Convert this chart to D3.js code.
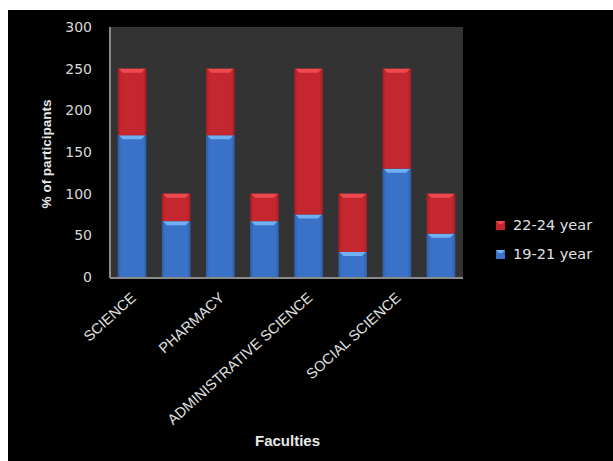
<!DOCTYPE html>
<html>
<head>
<meta charset="utf-8">
<script src="https://cdn.jsdelivr.net/npm/d3@7"></script>
<style>
  html, body { margin: 0; padding: 0; background: #fff; }
  svg { display: block; }
</style>
</head>
<body>
<svg id="chart" width="613" height="461"></svg>
<script>
// Donnees
const categories = ['SCIENCE', 'c2', 'PHARMACY', 'c4', 'ADMINISTRATIVE SCIENCE', 'c6', 'SOCIAL SCIENCE', 'c8'];
const tickLabels = ['SCIENCE', '', 'PHARMACY', '', 'ADMINISTRATIVE SCIENCE', '', 'SOCIAL SCIENCE', ''];
const age1921 = [170, 67, 170, 67, 75, 30, 130, 52];
const age2224 = [80, 33, 80, 33, 175, 70, 120, 48];
const yTicks = [0, 50, 100, 150, 200, 250, 300];
const seriesNames = ['19-21 year', '22-24 year'];

// Couleurs
const COLORS = {
  blue: { top: '#6fb0f2', body: '#3a72c8', dark: '#2d5ea8' },
  red:  { top: '#ec4a50', body: '#c4282e', dark: '#a51d22' },
};

const svg = d3.select('#chart');
const W = 613, H = 461;
const plot = { left: 110, right: 463, top: 27, bottom: 277 };

// fond noir du graphique
svg.append('rect').attr('x', 8).attr('y', 10).attr('width', W - 8).attr('height', H - 10).attr('fill', '#000');

const x = d3.scaleBand().domain(categories).range([plot.left, plot.right])
  .paddingInner(0.35).paddingOuter(0.175);
const y = d3.scaleLinear().domain([0, 300]).range([plot.bottom, plot.top]);

// degradés horizontaux pour les barres
const defs = svg.append('defs');
Object.entries(COLORS).forEach(([k, c]) => {
  const g = defs.append('linearGradient').attr('id', 'grad-' + k)
    .attr('x1', 0).attr('x2', 1).attr('y1', 0).attr('y2', 0);
  g.append('stop').attr('offset', '0%').attr('stop-color', c.dark);
  g.append('stop').attr('offset', '12%').attr('stop-color', c.body);
  g.append('stop').attr('offset', '88%').attr('stop-color', c.body);
  g.append('stop').attr('offset', '100%').attr('stop-color', c.dark);
});

// zone de tracé
svg.append('rect')
  .attr('x', plot.left).attr('y', plot.top)
  .attr('width', plot.right - plot.left).attr('height', plot.bottom - plot.top)
  .attr('fill', '#333333');

// empilement
const rows = categories.map((c, i) => ({ cat: c, a: age1921[i], b: age2224[i] }));
const stack = d3.stack().keys(['a', 'b'])(rows);
const keyColor = { a: 'blue', b: 'red' };

const bw = x.bandwidth();
const BEVEL = 4;
stack.forEach(layer => {
  const col = COLORS[keyColor[layer.key]];
  const g = svg.append('g').attr('class', 'series-' + layer.key);
  g.selectAll('rect.seg').data(layer).join('rect').attr('class', 'seg')
    .attr('x', d => x(d.data.cat))
    .attr('y', d => y(d[1]))
    .attr('width', bw)
    .attr('height', d => y(d[0]) - y(d[1]))
    .attr('fill', `url(#grad-${keyColor[layer.key]})`);
  // biseau en haut de chaque segment
  g.selectAll('path.bevel').data(layer).join('path').attr('class', 'bevel')
    .attr('d', d => {
      const x0 = x(d.data.cat), yt = y(d[1]);
      return `M${x0 + 1},${yt} L${x0 + bw - 1},${yt} L${x0 + bw - BEVEL - 1},${yt + BEVEL} L${x0 + BEVEL + 1},${yt + BEVEL} Z`;
    })
    .attr('fill', col.top);
});

// axes (lignes grises)
svg.append('line').attr('x1', plot.left).attr('x2', plot.left)
  .attr('y1', plot.top).attr('y2', plot.bottom + 1)
  .attr('stroke', '#8a8a8a').attr('stroke-width', 2);
svg.append('line').attr('x1', plot.left).attr('x2', plot.right)
  .attr('y1', plot.bottom + 1).attr('y2', plot.bottom + 1)
  .attr('stroke', '#8a8a8a').attr('stroke-width', 2);

// axe Y
const yAxis = d3.axisLeft(y).tickValues(yTicks).tickSize(0).tickPadding(18);
const gy = svg.append('g').attr('transform', `translate(${plot.left},0)`).call(yAxis);
gy.select('.domain').remove();
gy.selectAll('text')
  .attr('fill', '#d8d8d8')
  .style('font-family', '"DejaVu Sans", Verdana, sans-serif')
  .style('font-size', '14px');

// étiquettes X (pivotées)
const gx = svg.append('g');
gx.selectAll('text').data(categories.map((c, i) => ({ c, label: tickLabels[i] })).filter(d => d.label))
  .join('text')
  .attr('transform', d => `translate(${x(d.c) + bw / 2 + 5},${plot.bottom + 22}) rotate(-42)`)
  .attr('text-anchor', 'end')
  .attr('fill', '#e0e0e0')
  .style('font-family', '"Liberation Sans", Arial, sans-serif')
  .style('font-size', '14.5px')
  .text(d => d.label);

// titres des axes
svg.append('text')
  .attr('transform', `translate(51,${(plot.top + plot.bottom) / 2 + 2}) rotate(-90)`)
  .attr('text-anchor', 'middle')
  .attr('fill', '#e8e8e8')
  .style('font-family', '"Liberation Sans", Arial, sans-serif')
  .style('font-weight', 'bold')
  .style('font-size', '13.5px')
  .text('% of participants');

svg.append('text')
  .attr('x', (plot.left + plot.right) / 2 + 1).attr('y', 446)
  .attr('text-anchor', 'middle')
  .attr('fill', '#e8e8e8')
  .style('font-family', '"Liberation Sans", Arial, sans-serif')
  .style('font-weight', 'bold')
  .style('font-size', '15px')
  .text('Faculties');

// légende (ordre inversé comme Excel)
const legend = svg.append('g').attr('transform', 'translate(496,225)');
const legItems = [
  { name: seriesNames[1], col: COLORS.red },
  { name: seriesNames[0], col: COLORS.blue },
];
const li = legend.selectAll('g').data(legItems).join('g')
  .attr('transform', (d, i) => `translate(0,${i * 29})`);
li.append('rect').attr('x', 0).attr('y', -4).attr('width', 9).attr('height', 9)
  .attr('fill', d => d.col.body);
li.append('path').attr('d', 'M0,-4 L9,-4 L6,-1 L3,-1 Z').attr('fill', d => d.col.top);
li.append('text').attr('x', 17).attr('y', 5)
  .attr('fill', '#e0e0e0')
  .style('font-family', '"DejaVu Sans", Verdana, sans-serif')
  .style('font-size', '14.5px')
  .text(d => d.name);
</script>
</body>
</html>
